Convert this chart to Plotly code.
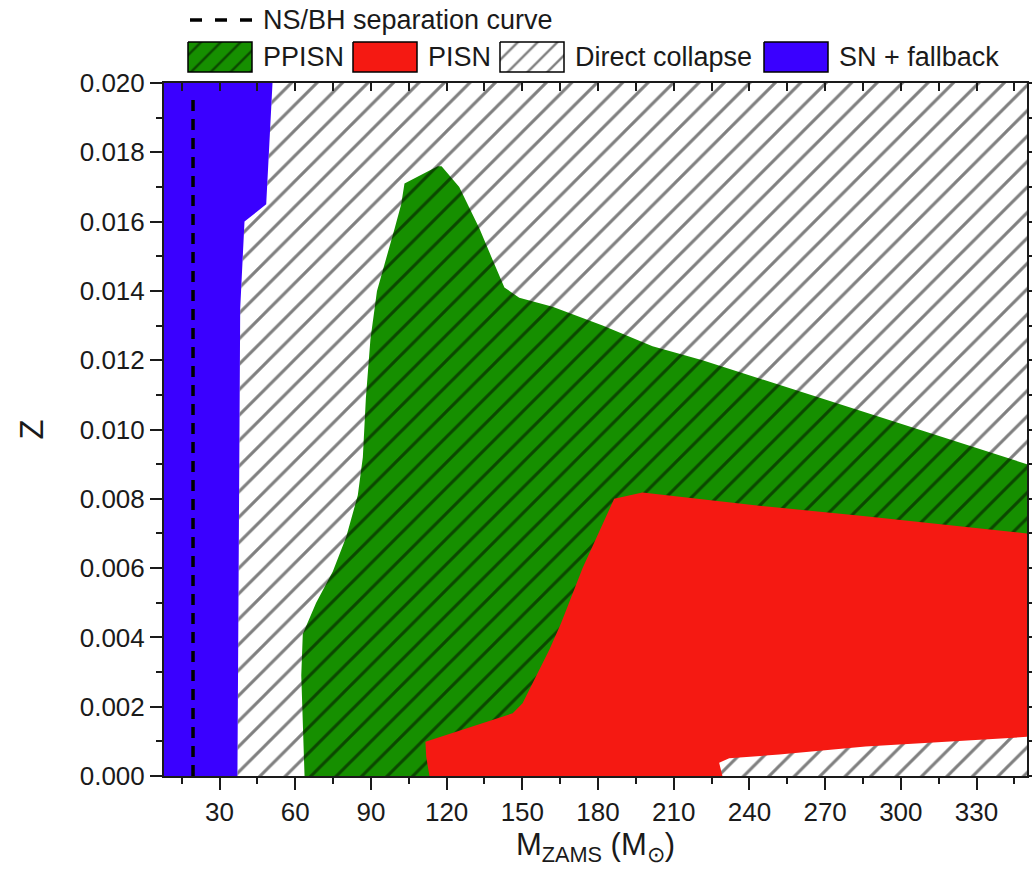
import plotly.graph_objects as go

# ---- data (M_ZAMS in Msun, Z metallicity) ----
sn_x = [8, 8, 51.0, 48.5, 39.9, 38.2, 37.1]
sn_z = [0.0, 0.020, 0.020, 0.0165, 0.0160, 0.0135, 0.0]

dc_x = [37.1, 38.2, 39.9, 48.5, 51.0, 350, 350]
dc_z = [0.0, 0.0135, 0.0160, 0.0165, 0.020, 0.020, 0.0]

ppisn_x = [63.7, 62.4, 63.0, 68.3, 74.9, 80.2, 84.8, 86.8, 88.0, 89.8, 92.4, 96.0,
           99.4, 102.0, 103.3, 116.5, 118.0, 125.0, 129.0, 133.0, 138.2, 142.9,
           148.8, 162.0, 181.8, 201.6, 221.4, 286.0, 350.0, 350.0, 200.0, 120.0]
ppisn_z = [0.0, 0.0029, 0.0041, 0.0050, 0.0059, 0.0069, 0.0081, 0.0092, 0.0109, 0.0126,
           0.0140, 0.0149, 0.0158, 0.0165, 0.0171, 0.0176, 0.0176, 0.0170, 0.0164,
           0.0158, 0.0149, 0.0141, 0.0138, 0.01354, 0.0130, 0.0124, 0.0120, 0.0105,
           0.0090, 0.0050, 0.0030, 0.0]

pisn_x = [113.2, 111.9, 111.6, 119.8, 146.2, 150.1, 155.4, 160.7, 165.3, 173.9, 186.4,
          197.6, 243.9, 286.0, 350.0, 350.0, 286.0, 251.8, 232.0, 228.0, 229.3]
pisn_z = [0.0, 0.00056, 0.00099, 0.00118, 0.00181, 0.0021, 0.00287, 0.00364, 0.0044,
          0.0060, 0.0080, 0.00818, 0.0078, 0.0075, 0.0070, 0.00113, 0.00085, 0.00062,
          0.00051, 0.00038, 0.0]

nsbh_x = [19.5, 19.5]
nsbh_z = [0.0, 0.0196]

x_range = [8, 350]
z_range = [0.0, 0.020]

legend_labels = ["PPISN", "PISN", "Direct collapse", "SN + fallback"]
line_label = "NS/BH separation curve"

# ---- styles ----
FONT = "Liberation Sans, Arial, Helvetica, sans-serif"
INK = "#1a1a1a"
GREEN, RED, BLUE = "#168f00", "#f51912", "#3a00ff"
HATCH = dict(shape="/", size=18, solidity=0.17, fgcolor="#000000")
DASH = "11px,8px"

W, H = 1032, 881
ML, MR, MB = 164, 5, 105
PLOT_TOP = 83                      # px from top of page to plot frame
area_h = H - MB                    # no top margin: legend lives in its own axes
main_top = (H - MB - PLOT_TOP) / area_h

fig = go.Figure()

fig.add_trace(go.Scatter(
    x=dc_x, y=dc_z, fill="toself", mode="lines", fillcolor="white",
    line=dict(width=0), fillpattern=dict(HATCH, bgcolor="white"),
    showlegend=False, hoverinfo="skip"))
fig.add_trace(go.Scatter(
    x=sn_x, y=sn_z, fill="toself", mode="lines", fillcolor=BLUE,
    line=dict(width=0), showlegend=False, hoverinfo="skip"))
fig.add_trace(go.Scatter(
    x=ppisn_x, y=ppisn_z, fill="toself", mode="lines", fillcolor=GREEN,
    line=dict(width=0), fillpattern=dict(HATCH, bgcolor=GREEN),
    showlegend=False, hoverinfo="skip"))
fig.add_trace(go.Scatter(
    x=pisn_x, y=pisn_z, fill="toself", mode="lines", fillcolor=RED,
    line=dict(width=0), showlegend=False, hoverinfo="skip"))
fig.add_trace(go.Scatter(
    x=nsbh_x, y=nsbh_z, mode="lines", line=dict(color="black", width=3.5, dash=DASH),
    showlegend=False, hoverinfo="skip"))

# helper trace so the inward-ticked top axis is drawn
fig.add_trace(go.Scatter(x=[], y=[], xaxis="x2", showlegend=False, hoverinfo="skip"))

# ---- hand-built legend in its own pixel-unit axes (x3/y3) ----
SW_W, SW_H = 64, 30
sw_left = [188, 353, 500, 764]
row1_y, row2_y = 20, 57
sw_fill = [dict(fillcolor=GREEN, fillpattern=dict(HATCH, bgcolor=GREEN, size=14)),
           dict(fillcolor=RED),
           dict(fillcolor="white", fillpattern=dict(HATCH, bgcolor="white", size=14)),
           dict(fillcolor=BLUE)]
for x0, label, style in zip(sw_left, legend_labels, sw_fill):
    fig.add_trace(go.Scatter(
        x=[x0, x0 + SW_W, x0 + SW_W, x0, x0],
        y=[row2_y - SW_H / 2, row2_y - SW_H / 2, row2_y + SW_H / 2, row2_y + SW_H / 2,
           row2_y - SW_H / 2],
        xaxis="x3", yaxis="y3", mode="lines", fill="toself",
        line=dict(color="black", width=1.5), showlegend=False, hoverinfo="skip",
        **style))
    fig.add_annotation(x=x0 + SW_W + 9, y=row2_y, xref="x3", yref="y3", text=label,
                       showarrow=False, xanchor="left", yanchor="middle",
                       font=dict(family=FONT, size=27, color=INK))
fig.add_trace(go.Scatter(
    x=[sw_left[0] + 2, sw_left[0] + SW_W], y=[row1_y, row1_y], xaxis="x3", yaxis="y3",
    mode="lines", line=dict(color="black", width=3.5, dash="12px,13px"),
    showlegend=False, hoverinfo="skip"))
fig.add_annotation(x=sw_left[0] + SW_W + 9, y=row1_y, xref="x3", yref="y3",
                   text=line_label, showarrow=False, xanchor="left", yanchor="middle",
                   font=dict(family=FONT, size=27, color=INK))

axis_common = dict(showgrid=False, zeroline=False, linecolor=INK, linewidth=2,
                   tickcolor=INK, tickwidth=2,
                   tickfont=dict(family=FONT, size=26, color=INK))

fig.update_layout(
    width=W, height=H,
    margin=dict(l=ML, r=MR, t=0, b=MB, autoexpand=False),
    paper_bgcolor="white", plot_bgcolor="white",
    font=dict(family=FONT, size=26, color=INK),
    showlegend=False,
    xaxis=dict(axis_common, range=x_range, tick0=30, dtick=30, ticks="outside",
               ticklen=12, showline=True, mirror=True, domain=[0, 1],
               minor=dict(dtick=15, ticks="outside", ticklen=6, tickwidth=2,
                          tickcolor=INK),
               title=dict(text="M<sub>ZAMS</sub> (M<sub>\u2299</sub>)",
                          font=dict(family=FONT, size=31, color=INK), standoff=6)),
    xaxis2=dict(overlaying="x", side="top", anchor="y", range=x_range,
                tick0=0, dtick=15, ticks="inside", ticklen=8, tickwidth=2,
                tickcolor=INK, showticklabels=False, showgrid=False,
                zeroline=False, showline=False),
    yaxis=dict(axis_common, range=z_range, tick0=0, dtick=0.002, tickformat=".3f",
               ticks="outside", ticklen=12, showline=True, mirror="ticks",
               domain=[0, main_top],
               minor=dict(dtick=0.001, ticks="outside", ticklen=6, tickwidth=2,
                          tickcolor=INK),
               title=dict(text="Z", font=dict(family=FONT, size=33, color=INK),
                          standoff=26)),
    xaxis3=dict(domain=[0, 1], range=[ML, W - MR], visible=False, anchor="y3",
                fixedrange=True),
    yaxis3=dict(domain=[main_top, 1], range=[PLOT_TOP, 0], visible=False, anchor="x3",
                fixedrange=True),
)

fig.write_html("out.html")
